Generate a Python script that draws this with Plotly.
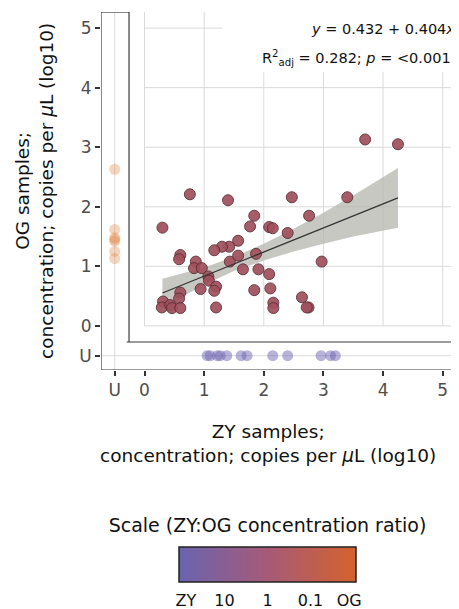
import plotly.graph_objects as go

# ---------------- data ----------------
U = -0.5  # position used for "undetected" samples

zy_main = [0.30, 0.76, 1.40, 2.47, 3.40, 3.70, 4.25, 1.84, 2.76, 1.77, 2.09, 2.15, 2.40,
           1.57, 1.42, 1.30, 1.17, 1.43, 1.57, 1.87, 0.60, 0.58, 0.86, 0.83, 0.96, 1.07,
           1.08, 1.65, 1.91, 2.09, 2.97, 0.94, 1.20, 1.17, 1.84, 2.11, 0.60, 0.58, 0.31,
           0.29, 0.43, 0.46, 0.60, 1.20, 2.16, 2.16, 2.64, 2.75, 2.72]
og_main = [1.65, 2.21, 2.11, 2.16, 2.16, 3.13, 3.05, 1.85, 1.85, 1.67, 1.66, 1.64, 1.56,
           1.43, 1.33, 1.33, 1.27, 1.08, 1.18, 1.21, 1.19, 1.12, 1.08, 0.97, 0.97, 0.83,
           0.76, 0.95, 0.95, 0.87, 1.08, 0.62, 0.66, 0.59, 0.60, 0.63, 0.56, 0.46, 0.41,
           0.31, 0.35, 0.30, 0.30, 0.31, 0.39, 0.30, 0.48, 0.31, 0.31]

og_only = [2.63, 1.62, 1.48, 1.45, 1.42, 1.25, 1.13]          # ZY undetected
zy_only = [1.05, 1.10, 1.22, 1.27, 1.38, 1.62, 1.72, 2.15, 2.40, 2.96, 3.12, 3.20]  # OG undetected

fit_x = [0.30, 4.25]
fit_y = [0.553, 2.149]
band_x = [0.30, 1.00, 1.50, 2.00, 2.50, 3.00, 3.50, 4.25]
band_lo = [0.31, 0.69, 0.92, 1.10, 1.25, 1.38, 1.50, 1.65]
band_hi = [0.79, 0.98, 1.16, 1.38, 1.63, 1.90, 2.19, 2.65]

tick_vals = [U, 0, 1, 2, 3, 4, 5]
tick_text = ["U", "0", "1", "2", "3", "4", "5"]
grid_vals = [0, 1, 2, 3, 4, 5]

cb_vals = [-1.9, -1, 0, 1, 1.9]
cb_text = ["ZY", "10", "1", "0.1", "OG"]

# ---------------- layout geometry ----------------
XMIN, XMAX = -0.73, 5.24
YMIN, YMAX = -0.74, 5.27
INNER_X, INNER_Y = -0.26, -0.27

FONT = "DejaVu Sans"
grid_col = "#dadada"
frame_col = "#3a3a3a"
purple = "#6964af"
orange = "#d4622d"
maroon = "#a0505c"

fig = go.Figure()

# confidence band
fig.add_trace(go.Scatter(
    x=band_x + band_x[::-1], y=band_hi + band_lo[::-1],
    fill="toself", fillcolor="rgba(180,182,174,0.75)", line=dict(width=0),
    mode="lines", hoverinfo="skip", showlegend=False))

# main points
fig.add_trace(go.Scatter(
    x=zy_main, y=og_main, mode="markers", showlegend=False,
    marker=dict(size=11, color=maroon, opacity=0.92,
                line=dict(color="#5c2e36", width=1))))

# fitted line
fig.add_trace(go.Scatter(x=fit_x, y=fit_y, mode="lines", showlegend=False,
                         line=dict(color="#333333", width=1.2)))

# OG-only samples (ZY undetected)
fig.add_trace(go.Scatter(
    x=[U] * len(og_only), y=og_only, mode="markers", showlegend=False,
    marker=dict(size=11, color="#e08a4c", opacity=0.36, line=dict(width=0))))

# ZY-only samples (OG undetected)
fig.add_trace(go.Scatter(
    x=zy_only, y=[U] * len(zy_only), mode="markers", showlegend=False,
    marker=dict(size=11, color="#6a62b0", opacity=0.48, line=dict(width=0))))

# colour-bar carrier trace
fig.add_trace(go.Scatter(
    x=[None], y=[None], mode="markers", showlegend=False, hoverinfo="skip",
    marker=dict(color=[0], cmin=-2.06, cmax=2.06,
                colorscale=[[0, purple], [0.5, "#a65a78"], [1, orange]],
                showscale=True,
                colorbar=dict(
                    orientation="h", lenmode="pixels", len=177,
                    thicknessmode="pixels", thickness=35,
                    x=0.4677, xanchor="center", y=-0.4335, yanchor="top",
                    outlinewidth=1.5, outlinecolor="#222222",
                    xpad=0, ypad=0,
                    title=dict(text="Scale (ZY:OG concentration ratio)", side="top",
                               font=dict(family=FONT, size=19, color="#111111")),
                    tickvals=cb_vals, ticktext=cb_text,
                    ticks="outside", ticklen=5, tickcolor="rgba(0,0,0,0)",
                    tickfont=dict(family=FONT, size=16, color="#111111")))))

shapes = []
# grid lines
for v in grid_vals:
    shapes.append(dict(type="line", x0=v, x1=v, y0=0, y1=YMAX, layer="below",
                       line=dict(color=grid_col, width=1)))
    shapes.append(dict(type="line", x0=0, x1=XMAX, y0=v, y1=v, layer="below",
                       line=dict(color=grid_col, width=1)))
shapes.append(dict(type="line", x0=U, x1=U, y0=YMIN, y1=YMAX, layer="below",
                   line=dict(color=grid_col, width=1)))
shapes.append(dict(type="line", x0=XMIN, x1=XMAX, y0=U, y1=U, layer="below",
                   line=dict(color=grid_col, width=1)))
# white box behind the equation
shapes.append(dict(type="rect", x0=1.30, x1=XMAX, y0=4.26, y1=YMAX, layer="below",
                   fillcolor="white", line=dict(width=0)))
# frame
frame = [
    (XMIN, YMIN, XMIN, YMAX),
    (XMIN, YMIN, XMAX, YMIN),
    (XMIN, YMAX, INNER_X, YMAX),
    (INNER_X, YMAX, INNER_X, INNER_Y),
    (-0.30, INNER_Y, XMAX, INNER_Y),
    (XMAX, INNER_Y, XMAX, YMIN),
]
for x0, y0, x1, y1 in frame:
    shapes.append(dict(type="line", x0=x0, y0=y0, x1=x1, y1=y1, layer="above",
                       line=dict(color=frame_col, width=1.2)))
# colour-bar inner tick marks (paper coords)
for px in [0.348, 0.466, 0.590]:
    shapes.append(dict(type="line", xref="paper", yref="paper", x0=px, x1=px,
                       y0=-0.494, y1=-0.505, line=dict(color="#333", width=1)))
    shapes.append(dict(type="line", xref="paper", yref="paper", x0=px, x1=px,
                       y0=-0.581, y1=-0.592, line=dict(color="#333", width=1)))

annotations = [
    dict(text="<i>y</i> = 0.432 + 0.404<i>x</i>", xref="paper", yref="paper",
         x=1.0, y=0.9525, xanchor="right", yanchor="middle", showarrow=False,
         font=dict(family=FONT, size=14.5, color="#111111")),
    dict(text="R<sup>2</sup><sub>adj</sub> = 0.282; <i>p</i> = <0.001", xref="paper",
         yref="paper", x=0.99, y=0.8715, xanchor="right", yanchor="middle",
         showarrow=False, font=dict(family=FONT, size=14.5, color="#111111")),
    dict(text="OG samples;<br>concentration; copies per <i>μ</i>L (log10)",
         xref="paper", yref="paper", x=0, y=0.5, xshift=-67, xanchor="center",
         yanchor="middle", textangle=-90, showarrow=False,
         font=dict(family=FONT, size=18.5, color="#111111")),
    dict(text="ZY samples;<br>concentration; copies per <i>μ</i>L (log10)",
         xref="paper", yref="paper", x=0.4677, y=0, yshift=-73, xanchor="center",
         yanchor="middle", showarrow=False,
         font=dict(family=FONT, size=18.5, color="#111111")),
]

axis_common = dict(showgrid=False, zeroline=False, showline=False, ticks="outside",
                   ticklen=5, tickwidth=1.5, tickcolor="#333333",
                   tickfont=dict(family=FONT, size=17, color="#4d4d4d"),
                   tickvals=tick_vals, ticktext=tick_text, fixedrange=True)

# the page body adds an 8 px offset, so the figure is 8 px smaller on each axis
fig.update_layout(
    width=451, height=601,
    margin=dict(l=93, r=2, t=4, b=239, autoexpand=False),
    paper_bgcolor="white", plot_bgcolor="white",
    xaxis=dict(range=[XMIN, XMAX], **axis_common),
    yaxis=dict(range=[YMIN, YMAX], **axis_common),
    shapes=shapes, annotations=annotations,
    font=dict(family=FONT),
)

fig.write_html("out.html")
